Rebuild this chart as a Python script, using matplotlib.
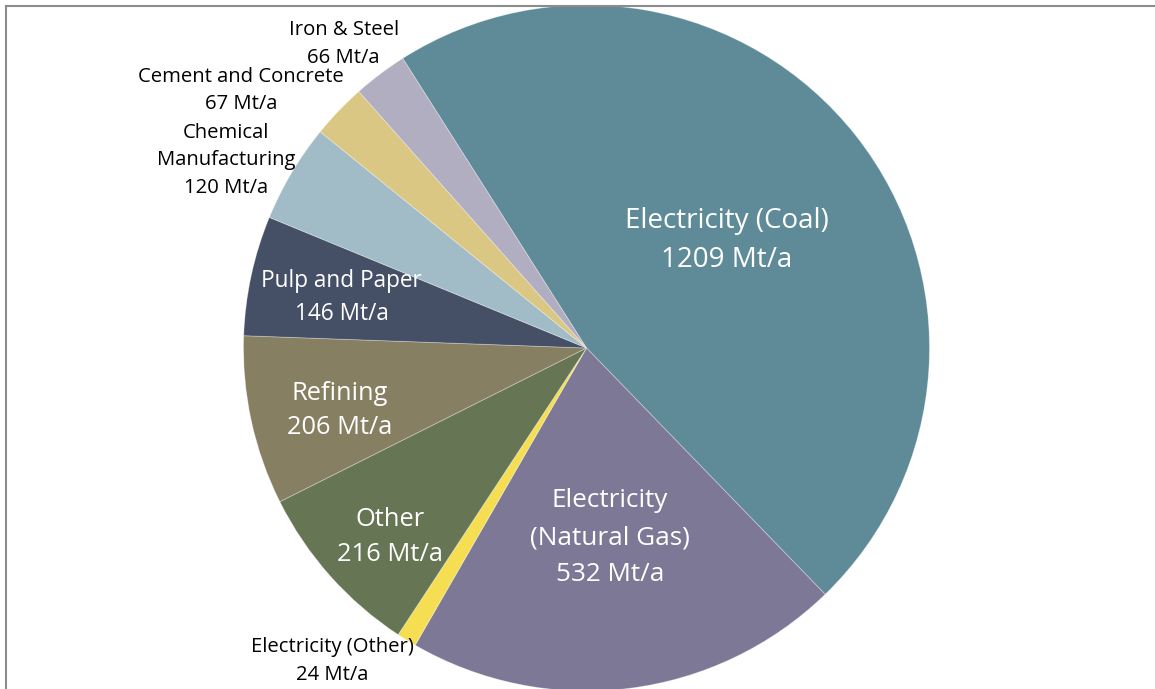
import matplotlib
matplotlib.use("Agg")
import matplotlib.pyplot as plt
from matplotlib.lines import Line2D
import numpy as np

categories = ["Electricity (Coal)", "Electricity\n(Natural Gas)", "Electricity (Other)",
              "Other", "Refining", "Pulp and Paper", "Chemical\nManufacturing",
              "Cement and Concrete", "Iron & Steel"]
values = [1209, 532, 24, 216, 206, 146, 120, 67, 66]
unit = "Mt/a"
colors = ["#5f8b98", "#7d7895", "#f5de52", "#667553", "#877f62",
          "#454f65", "#a1bcc7", "#dac784", "#b0aec0"]

# label placement: (radial fraction, angle tweak deg, inside?, fontsize, linespacing)
label_style = [
    (0.52, -0.2, True, 20.0, 1.5),
    (0.55, 0.1, True, 18.8, 1.62),
    (1.17, -7.7, False, 14.6, 1.5),
    (0.79, 1.8, True, 18.4, 1.5),
    (0.74, 1.4, True, 18.3, 1.5),
    (0.73, -0.1, True, 16.3, 1.5),
    (1.188, 2.9, False, 14.6, 1.5),
    (1.26, 6.8, False, 14.6, 1.5),
    (1.14, 1.4, False, 14.6, 1.5),
]

W, H = 1155, 689
fig = plt.figure(figsize=(W / 100, H / 100), dpi=100)
ax = fig.add_axes([0, 0, 1, 1])

cx, cy, R = 586.5, H - 348, 343
start = 122.4
wedges, _ = ax.pie(values, colors=colors, startangle=start, counterclock=False,
                   center=(cx, cy), radius=R, frame=True,
                   wedgeprops=dict(edgecolor=(1, 1, 1, 0.35), linewidth=0.6))
ax.set_xlim(0, W)
ax.set_ylim(0, H)
ax.set_aspect("equal")
ax.axis("off")

font = ["Open Sans", "DejaVu Sans"]
for w, cat, val, (rf, dang, inside, fs, ls) in zip(wedges, categories, values, label_style):
    mid = np.deg2rad((w.theta1 + w.theta2) / 2 + dang)
    x = cx + R * rf * np.cos(mid)
    y = cy + R * rf * np.sin(mid) - 2.5
    ax.text(x, y, f"{cat}\n{val} {unit}", ha="center", va="center",
            fontsize=fs, family=font, color="white" if inside else "black",
            linespacing=ls)

# outer frame (top and left edges visible)
fig.add_artist(Line2D([6 / W, 6 / W], [0, 1 - 5.5 / H], transform=fig.transFigure,
                      color="#8c8c8c", linewidth=1.5))
fig.add_artist(Line2D([6 / W, 1], [1 - 5.5 / H, 1 - 5.5 / H], transform=fig.transFigure,
                      color="#8c8c8c", linewidth=1.5))

fig.savefig("out.png", dpi=100)
